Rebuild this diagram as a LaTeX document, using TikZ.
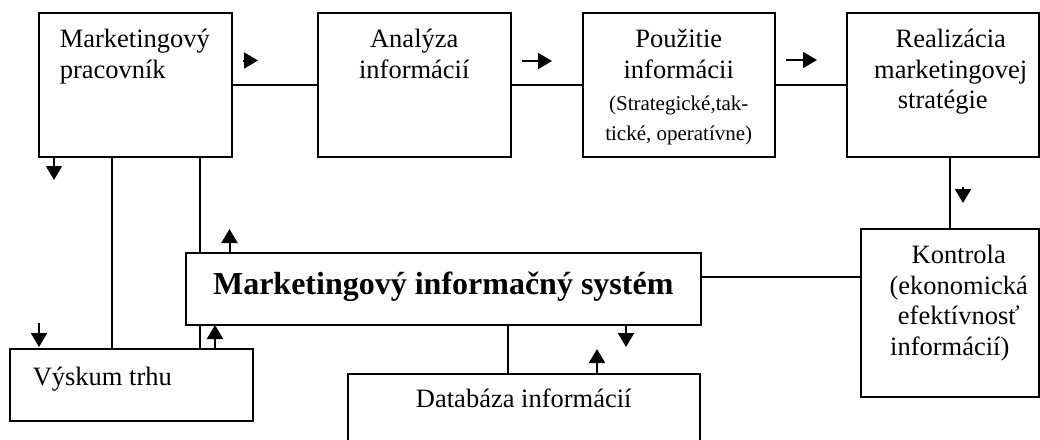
\documentclass[tikz,border=0pt]{standalone}
\usepackage{fontspec}
\setmainfont{Liberation Serif}
\usetikzlibrary{arrows.meta}
\newcommand{\textpx}{\fontsize{26.5pt}{30.5pt}\selectfont}
\newcommand{\smallpx}{\fontsize{21pt}{23pt}\selectfont}
\newcommand{\boldpx}{\fontsize{32pt}{36pt}\selectfont\bfseries}
\tikzset{
  blok/.style={draw, line width=1.5pt, inner sep=0pt, anchor=north west, align=flush center, font=\textpx},
  ciara/.style={line width=1.5pt},
  sipka/.style={line width=2pt, -{Triangle[length=14pt,width=16pt]}}
}
\begin{document}
\begin{tikzpicture}[x=1pt,y=-1pt]
\path[use as bounding box, clip] (0,0) rectangle (1040,439);

\node[blok, align=flush left, text width=151pt, inner xsep=21pt, text height=35pt, text depth=109pt] (pracovnik) at (38,12) {Marketingový\\pracovník};
\node[blok, text width=193pt, text height=35pt, text depth=109pt] (analyza) at (317,12) {Analýza\\informácií};
\node[blok, text width=192pt, text height=35pt, text depth=109pt] (pouzitie) at (582,12) {Použitie\\informácii\par\smallpx\vskip9pt (Strategické,tak-\\tické, operatívne)};
\node[blok, text width=192pt, text height=35pt, text depth=109pt] (realizacia) at (846,12) {\advance\leftskip16pt Realizácia\\marketingovej\\stratégie};
\node[blok, text width=178pt, text height=35pt, text depth=133pt] (kontrola) at (860,228) {\advance\leftskip18pt Kontrola\\(ekonomická\\efektívnosť\\informácií)};
\node[blok, font=\boldpx, text width=515pt, text height=42pt, text depth=30pt] (mis) at (185,252) {Marketingový informačný systém};
\node[blok, align=flush left, text width=197pt, inner xsep=23pt, text height=37pt, text depth=35pt] (vyskum) at (9,348) {Výskum trhu};
\node[blok, text width=352pt, text height=34pt, text depth=86pt] (databaza) at (347,373) {Databáza informácií};

% spojenia
\coordinate (p1) at ([xshift=74pt]pracovnik.south west);
\coordinate (p2) at ([xshift=162pt]pracovnik.south west);
\coordinate (m1) at ([xshift=323pt]mis.south west);
\coordinate (m2) at ([yshift=12pt]mis.east);
\path[draw,ciara] (pracovnik.east) -- (analyza.west);
\path[draw,ciara] (analyza.east) -- (pouzitie.west);
\path[draw,ciara] (pouzitie.east) -- (realizacia.west);
\path[draw,ciara] (kontrola.north) -- (kontrola.north |- realizacia.south);
\path[draw,ciara] (m2) -- (m2 -| kontrola.west);
\path[draw,ciara] (p1) -- (p1 |- vyskum.north);
\path[draw,ciara] (p2) -- (p2 |- mis.north);
\path[draw,ciara] (p2 |- mis.south) -- (p2 |- vyskum.north);
\path[draw,ciara] (m1) -- (m1 |- databaza.north);

% sipky
\draw[sipka] (243,60.5) -- (258,60.5);
\draw[sipka] (522,61) -- (552,61);
\draw[sipka] (786,60) -- (817,60);
\draw[sipka] (54,156) -- (54,180);
\draw[sipka] (963,187) -- (963,203);
\draw[sipka] (39,323) -- (39,347);
\draw[sipka] (229.5,252) -- (229.5,229);
\draw[sipka] (215,348) -- (215,325);
\draw[sipka] (626,324) -- (626,347);
\draw[sipka] (597,373) -- (597,349);
\end{tikzpicture}
\end{document}
